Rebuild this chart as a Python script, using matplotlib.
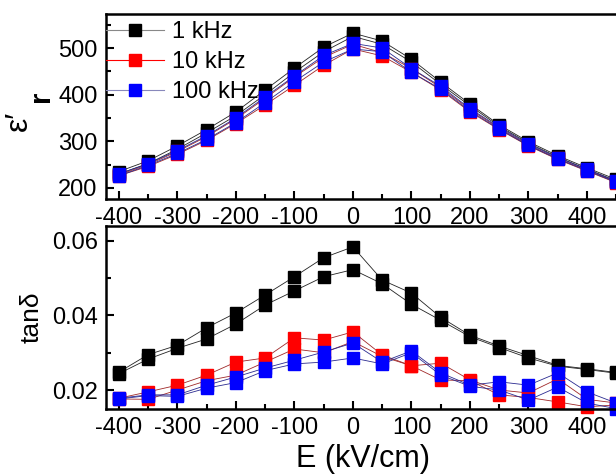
import numpy as np
import matplotlib
matplotlib.use("Agg")
import matplotlib.pyplot as plt
from matplotlib.ticker import MultipleLocator
from matplotlib.lines import Line2D

plt.rcParams['font.family'] = ['Liberation Sans', 'DejaVu Sans']
plt.rcParams['axes.unicode_minus'] = False

# electric field (kV/cm)
E = [-400, -350, -300, -250, -200, -150, -100, -50, 0, 50,
     100, 150, 200, 250, 300, 350, 400, 450]

# dielectric constant, two sweep branches per frequency
eps_1k_a = [235, 258, 290, 325, 363, 410, 457, 502, 532, 515, 476, 427, 380, 335, 299, 269, 243, 218]
eps_1k_b = [230, 252, 283, 318, 355, 400, 448, 492, 525, 508, 470, 422, 376, 332, 296, 266, 240, 215]
eps_10k_a = [228, 250, 278, 310, 348, 392, 438, 480, 508, 490, 456, 415, 368, 328, 292, 263, 238, 213]
eps_10k_b = [226, 246, 272, 302, 338, 378, 420, 463, 498, 483, 448, 410, 363, 325, 290, 261, 236, 211]
eps_100k_a = [230, 252, 280, 312, 350, 395, 440, 484, 510, 500, 456, 418, 370, 330, 294, 265, 240, 214]
eps_100k_b = [226, 248, 274, 304, 340, 383, 428, 470, 498, 492, 448, 412, 365, 326, 291, 262, 237, 212]

# loss tangent
tan_1k_a = [0.0248, 0.0295, 0.0320, 0.0367, 0.0407, 0.0455, 0.0504, 0.0555, 0.0584, 0.0495,
            0.0460, 0.0395, 0.0347, 0.0318, 0.0292, 0.0266, 0.0257, 0.0247]
tan_1k_b = [0.0244, 0.0283, 0.0312, 0.0337, 0.0377, 0.0428, 0.0466, 0.0504, 0.0523, 0.0485,
            0.0430, 0.0387, 0.0343, 0.0314, 0.0286, 0.0264, 0.0255, 0.0245]
tan_10k_a = [0.0178, 0.0195, 0.0213, 0.0240, 0.0275, 0.0286, 0.0340, 0.0334, 0.0356, 0.0294,
             0.0265, 0.0272, 0.0227, 0.0200, 0.0192, 0.0230, 0.0175, 0.0165]
tan_10k_b = [0.0176, 0.0175, 0.0200, 0.0225, 0.0240, 0.0275, 0.0310, 0.0300, 0.0330, 0.0290,
             0.0265, 0.0227, 0.0225, 0.0187, 0.0180, 0.0168, 0.0155, 0.0160]
tan_100k_a = [0.0178, 0.0187, 0.0187, 0.0213, 0.0235, 0.0259, 0.0280, 0.0302, 0.0326, 0.0275,
              0.0305, 0.0246, 0.0213, 0.0222, 0.0213, 0.0246, 0.0195, 0.0165]
tan_100k_b = [0.0176, 0.0185, 0.0183, 0.0205, 0.0220, 0.0252, 0.0270, 0.0275, 0.0286, 0.0270,
              0.0300, 0.0240, 0.0210, 0.0200, 0.0173, 0.0208, 0.0165, 0.0150]

labels = ['1 kHz', '10 kHz', '100 kHz']
colors = ['black', 'red', 'blue']
line_colors = ['#222222', '#a02828', '#2a2a90']

eps_sets = [(eps_1k_a, eps_1k_b), (eps_10k_a, eps_10k_b), (eps_100k_a, eps_100k_b)]
tan_sets = [(tan_1k_a, tan_1k_b), (tan_10k_a, tan_10k_b), (tan_100k_a, tan_100k_b)]

fig = plt.figure(figsize=(6.16, 4.75), dpi=100)
ax1 = fig.add_axes([0.1721, 0.581, 0.834, 0.3895])
ax2 = fig.add_axes([0.1721, 0.1389, 0.834, 0.3853])

for ax, sets in [(ax1, eps_sets), (ax2, tan_sets)]:
    for (a, b), c, lc in zip(sets, colors, line_colors):
        for branch in (a, b):
            ax.plot(E, branch, '-s', color=lc, lw=0.6, ms=8.5,
                    mfc=c, mec=c, clip_on=False)
    ax.set_xlim(-422, 456)
    ax.xaxis.set_major_locator(MultipleLocator(100))
    ax.xaxis.set_minor_locator(MultipleLocator(50))
    ax.tick_params(which='both', direction='in', labelsize=17, width=1.5, pad=6)
    ax.tick_params(which='major', length=6)
    ax.tick_params(which='minor', length=3.5)
    ax.tick_params(top=False, right=False)
    for s in ax.spines.values():
        s.set_linewidth(1.8)

ax1.set_ylim(176, 573)
ax1.yaxis.set_major_locator(MultipleLocator(100))
ax1.yaxis.set_minor_locator(MultipleLocator(50))

ax2.set_ylim(0.0149, 0.064)
ax2.yaxis.set_major_locator(MultipleLocator(0.02))
ax2.yaxis.set_minor_locator(MultipleLocator(0.01))
ax2.set_yticks([0.02, 0.04, 0.06])
ax2.set_yticklabels(['0.02', '0.04', '0.06'])
ax2.set_xlabel('E (kV/cm)', fontsize=22, labelpad=3)
ax2.set_ylabel('tanδ', fontsize=19, labelpad=6)

# y label of the top panel: epsilon prime with a bold r
fig.text(0.03, 0.745, 'ε′', fontsize=23, rotation=90, ha='center', va='center')
fig.text(0.066, 0.797, 'r', fontsize=21, fontweight='bold', rotation=90,
         ha='center', va='center')

handles = [Line2D([], [], color=lc2, lw=0.8, marker='s', ms=8.5, mfc=c, mec=c)
           for c, lc2 in zip(colors, ['#888888', 'red', '#8888bb'])]
ax1.legend(handles, labels, loc='upper left', bbox_to_anchor=(0.0, 0.96),
           frameon=False, fontsize=17, borderpad=0, borderaxespad=0,
           handlelength=2.45, handletextpad=0.35, labelspacing=0.33)

fig.savefig('out.png', dpi=100)
